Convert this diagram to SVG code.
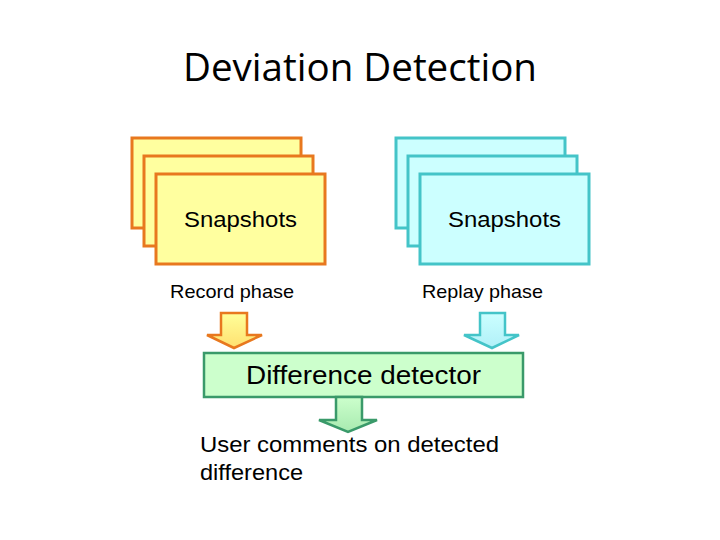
<svg xmlns="http://www.w3.org/2000/svg" width="720" height="540" viewBox="0 0 720 540">
<defs>
<style>
.t{font-family:"Liberation Sans",Arial,sans-serif;fill:#000}
.y{fill:#FFFF9F;stroke:#E8781E;stroke-width:3}
.c{fill:#CCFFFF;stroke:#44C4C8;stroke-width:3}
.g{fill:#CCFFCC;stroke:#3A9A6A;stroke-width:2.5}
</style>
<linearGradient id="gy" x1="0" y1="0" x2="0" y2="1"><stop offset="0" stop-color="#FFFF99"/><stop offset="1" stop-color="#FFE070"/></linearGradient>
<linearGradient id="gc" x1="0" y1="0" x2="0" y2="1"><stop offset="0" stop-color="#CCFFFF"/><stop offset="1" stop-color="#B0F0F8"/></linearGradient>
<linearGradient id="gg" x1="0" y1="0" x2="0" y2="1"><stop offset="0" stop-color="#CCFFCC"/><stop offset="1" stop-color="#A8EAB0"/></linearGradient>
</defs>
<rect width="720" height="540" fill="#fff"/>
<text x="360" y="81" text-anchor="middle" font-family="'Open Sans','Noto Sans',sans-serif" font-size="38" textLength="354" lengthAdjust="spacingAndGlyphs">Deviation Detection</text>

<g id="record-snapshots">
<rect class="y" x="132" y="138" width="169" height="90"/>
<rect class="y" x="144" y="156" width="169" height="90"/>
<rect class="y" x="156" y="174" width="169" height="90"/>
<text class="t" x="184" y="227" font-size="22" textLength="113" lengthAdjust="spacingAndGlyphs">Snapshots</text>
</g>
<text class="t" x="170" y="298" font-size="19" textLength="124" lengthAdjust="spacingAndGlyphs">Record phase</text>

<g id="replay-snapshots">
<rect class="c" x="396" y="138" width="169" height="90"/>
<rect class="c" x="408" y="156" width="169" height="90"/>
<rect class="c" x="420" y="174" width="169" height="90"/>
<text class="t" x="448" y="227" font-size="22" textLength="113" lengthAdjust="spacingAndGlyphs">Snapshots</text>
</g>
<text class="t" x="422" y="298" font-size="19" textLength="121" lengthAdjust="spacingAndGlyphs">Replay phase</text>

<g id="difference-detector">
<rect class="g" x="204" y="353" width="319" height="44"/>
<text class="t" x="246" y="384" font-size="26" textLength="235" lengthAdjust="spacingAndGlyphs">Difference detector</text>
</g>

<g id="connectors" stroke-width="2.5" stroke-linejoin="miter">
<path d="M221 313 H247 V335 H262 L234 348 L207 335 H221 Z" fill="url(#gy)" stroke="#E8781E"/>
<path d="M480 313 H505 V335 H519 L492 348 L464 335 H480 Z" fill="url(#gc)" stroke="#44C4C8"/>
<path d="M336 397 H362 V420 H377 L348 432 L319 420 H336 Z" fill="url(#gg)" stroke="#3A9A6A"/>
</g>

<text class="t" x="200" y="452" font-size="22" textLength="299" lengthAdjust="spacingAndGlyphs">User comments on detected</text>
<text class="t" x="200" y="480" font-size="22" textLength="103" lengthAdjust="spacingAndGlyphs">difference</text>
</svg>
